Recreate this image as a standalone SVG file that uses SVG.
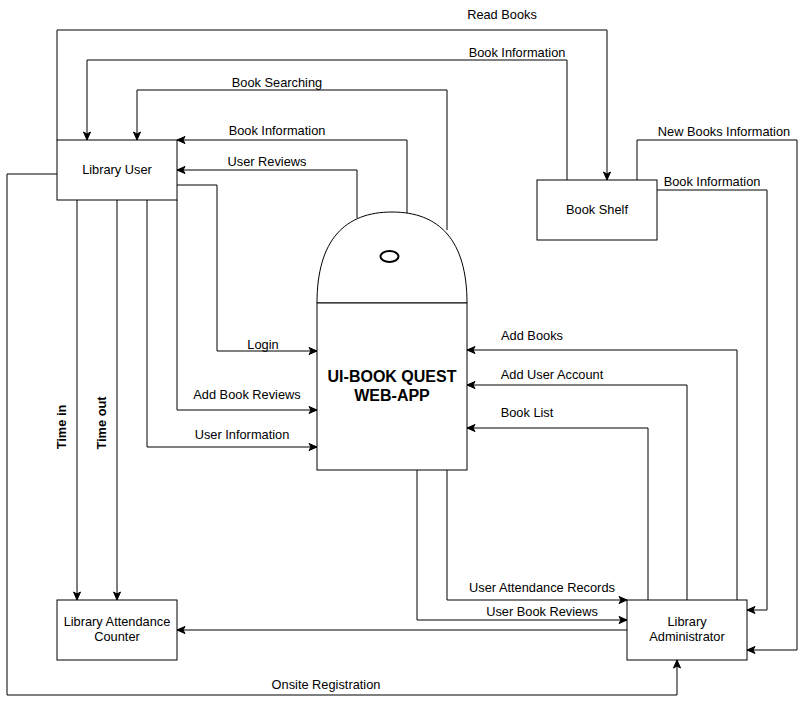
<svg xmlns="http://www.w3.org/2000/svg" width="806" height="704" viewBox="0 0 806 704">
<style>
.box{fill:#fff;stroke:#000;stroke-width:1}
.lbl{font-family:"Liberation Sans",Arial,sans-serif;font-size:12.8px;fill:#000;text-anchor:middle}
.b{font-weight:bold}
.big{font-family:"Liberation Sans",Arial,sans-serif;font-size:16px;font-weight:bold;text-anchor:middle}
.c{fill:none;stroke:#000;stroke-width:1;marker-end:url(#arr)}
.n{fill:none;stroke:#000;stroke-width:1}
</style>
<defs>
<marker id="arr" markerUnits="userSpaceOnUse" markerWidth="10" markerHeight="10" viewBox="0 0 10 10" refX="9" refY="5" orient="auto">
<path d="M1,1.5 L9,5 L1,8.5 L3,5 Z" fill="#000" stroke="#000" stroke-width="1"/>
</marker>
</defs>
<rect width="806" height="704" fill="#fff"/>
<g id="connectors">
<path class="c" d="M57,140 V30 H607 V180"/>
<text class="lbl" x="502" y="19">Read Books</text>
<path class="c" d="M567,180 V60 H87 V140"/>
<text class="lbl" x="517" y="57">Book Information</text>
<path class="c" d="M447,230 V90 H137 V140"/>
<text class="lbl" x="277" y="87">Book Searching</text>
<path class="c" d="M407,213 V140 H177"/>
<text class="lbl" x="277" y="135">Book Information</text>
<path class="c" d="M357,218 V170 H177"/>
<text class="lbl" x="267" y="166">User Reviews</text>
<path class="c" d="M177,185 H217 V351 H317"/>
<text class="lbl" x="263" y="349">Login</text>
<path class="c" d="M177,200 V410 H317"/>
<text class="lbl" x="247" y="399">Add Book Reviews</text>
<path class="c" d="M147,200 V447 H317"/>
<text class="lbl" x="242" y="439">User Information</text>
<path class="c" d="M77,200 V600"/>
<text class="lbl b" transform="translate(66,427) rotate(-90)">Time in</text>
<path class="c" d="M117,200 V600"/>
<text class="lbl b" transform="translate(106,423) rotate(-90)">Time out</text>
<path class="c" d="M57,174 H7 V695 H677 V660"/>
<text class="lbl" x="326" y="689">Onsite Registration</text>
<path class="c" d="M627,630 H177"/>
<path class="c" d="M447,470 V600 H627"/>
<text class="lbl" x="542" y="592">User Attendance Records</text>
<path class="c" d="M417,470 V620 H627"/>
<text class="lbl" x="542" y="616">User Book Reviews</text>
<path class="c" d="M737,600 V350 H467"/>
<text class="lbl" x="532" y="340">Add Books</text>
<path class="c" d="M687,600 V385 H467"/>
<text class="lbl" x="552" y="379">Add User Account</text>
<path class="c" d="M648,600 V428 H467"/>
<text class="lbl" x="527" y="417">Book List</text>
<path class="c" d="M637,180 V140 H797 V650 H747"/>
<text class="lbl" x="724" y="136">New Books Information</text>
<path class="c" d="M657,190 H767 V610 H747"/>
<text class="lbl" x="712" y="186">Book Information</text>
</g>
<g id="library-user">
<rect class="box" x="57" y="140" width="120" height="60"/>
<text class="lbl" x="117" y="174">Library User</text>
</g>
<g id="book-shelf">
<rect class="box" x="537" y="180" width="120" height="60"/>
<text class="lbl" x="597" y="214">Book Shelf</text>
</g>
<g id="attendance-counter">
<rect class="box" x="57" y="600" width="120" height="60"/>
<text class="lbl" x="117" y="626">Library Attendance</text>
<text class="lbl" x="117" y="641">Counter</text>
</g>
<g id="library-administrator">
<rect class="box" x="627" y="600" width="120" height="60"/>
<text class="lbl" x="687" y="626">Library</text>
<text class="lbl" x="687" y="641">Administrator</text>
</g>
<g id="web-app">
<path class="box" d="M317,303 C317,240 345,212 392,212 C439,212 467,240 467,303 Z"/>
<rect class="box" x="317" y="303" width="150" height="167"/>
<ellipse cx="389.5" cy="256.5" rx="9" ry="5.5" fill="none" stroke="#000" stroke-width="2"/>
<text class="big" x="392" y="382">UI-BOOK QUEST</text>
<text class="big" x="392" y="401">WEB-APP</text>
</g>
</svg>
